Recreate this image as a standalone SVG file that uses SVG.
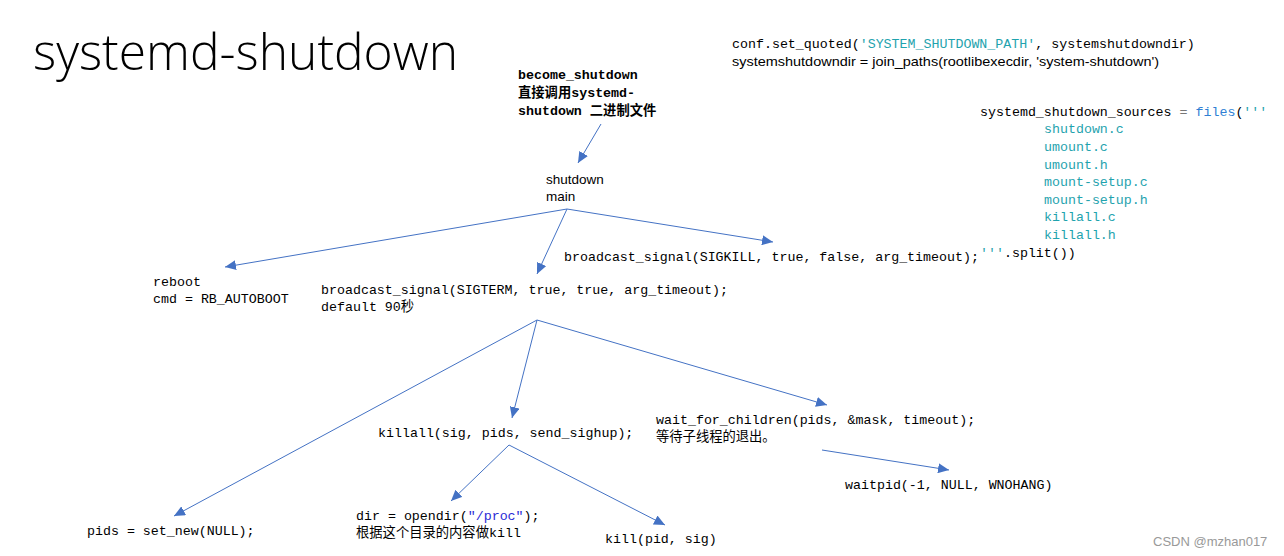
<svg xmlns="http://www.w3.org/2000/svg" width="1284" height="556" viewBox="0 0 1284 556">
<defs>
<style>
.m{font-family:"Liberation Mono","DejaVu Sans Mono","Noto Sans CJK SC",monospace;font-size:13.3px;fill:#000}
.b{font-weight:bold}
.s{font-family:"Liberation Sans","Noto Sans CJK SC",sans-serif;font-size:13.5px;fill:#000}
.t{fill:#1fa3ae}
.k{fill:#2f7fd4}
.q{fill:#2b2bd6}
.c{stroke:#4472c4;stroke-width:1;fill:none;marker-end:url(#ah)}
</style>
<marker id="ah" markerUnits="userSpaceOnUse" markerWidth="12" markerHeight="10" refX="11" refY="5" orient="auto"><path d="M0,0 L11,5 L0,10 Z" fill="#4472c4"/></marker>
</defs>
<rect width="1284" height="556" fill="#fff"/>
<text x="33" y="70" font-family="Open Sans, Lato, Noto Sans, sans-serif" font-weight="300" font-size="50" textLength="425" lengthAdjust="spacingAndGlyphs" fill="#000">systemd-shutdown</text>
<g id="conf">
<text class="m" x="732" y="48">conf.set_quoted(<tspan class="t">'SYSTEM_SHUTDOWN_PATH'</tspan>, systemshutdowndir)</text>
<text class="s" x="732" y="66" textLength="427" lengthAdjust="spacingAndGlyphs">systemshutdowndir = join_paths(rootlibexecdir, 'system-shutdown')</text>
</g>
<g id="sources">
<text class="m" x="980" y="116">systemd_shutdown_sources <tspan fill="#777">=</tspan> <tspan class="k">files</tspan>(<tspan class="t">'''</tspan></text>
<text class="m t" x="1044" y="133">shutdown.c</text>
<text class="m t" x="1044" y="151">umount.c</text>
<text class="m t" x="1044" y="169">umount.h</text>
<text class="m t" x="1044" y="186">mount-setup.c</text>
<text class="m t" x="1044" y="204">mount-setup.h</text>
<text class="m t" x="1044" y="221">killall.c</text>
<text class="m t" x="1044" y="239">killall.h</text>
<text class="m" x="980" y="257"><tspan class="t">'''</tspan>.split())</text>
</g>
<g id="become">
<text class="m b" x="518" y="79">become_shutdown</text>
<text class="m b" x="518" y="97">直接调用systemd-</text>
<text class="m b" x="518" y="115">shutdown 二进制文件</text>
</g>
<g id="main">
<text class="s" x="546" y="184">shutdown</text>
<text class="s" x="546" y="201">main</text>
</g>
<g id="reboot">
<text class="m" x="153" y="286">reboot</text>
<text class="m" x="153" y="303">cmd = RB_AUTOBOOT</text>
</g>
<g id="sigterm">
<text class="m" x="321" y="294">broadcast_signal(SIGTERM, true, true, arg_timeout);</text>
<text class="m" x="321" y="311">default 90秒</text>
</g>
<g id="sigkill">
<text class="m" x="564" y="261">broadcast_signal(SIGKILL, true, false, arg_timeout);</text>
</g>
<g id="killall">
<text class="m" x="378" y="437">killall(sig, pids, send_sighup);</text>
</g>
<g id="wait">
<text class="m" x="656" y="424">wait_for_children(pids, &amp;mask, timeout);</text>
<text class="m" x="656" y="441">等待子线程的退出。</text>
</g>
<g id="waitpid">
<text class="m" x="845" y="489">waitpid(-1, NULL, WNOHANG)</text>
</g>
<g id="pids">
<text class="m" x="87" y="535">pids = set_new(NULL);</text>
</g>
<g id="opendir">
<text class="m" x="356" y="520">dir = opendir(<tspan class="q">"/proc"</tspan>);</text>
<text class="m" x="356" y="537">根据这个目录的内容做kill</text>
</g>
<g id="kill">
<text class="m" x="605" y="543">kill(pid, sig)</text>
</g>
<g id="connectors">
<line class="c" x1="601" y1="124" x2="578" y2="163"/>
<line class="c" x1="567" y1="209" x2="225" y2="267"/>
<line class="c" x1="567" y1="209" x2="537" y2="274"/>
<line class="c" x1="567" y1="209" x2="773" y2="242"/>
<line class="c" x1="537" y1="320" x2="174" y2="516"/>
<line class="c" x1="537" y1="320" x2="512" y2="418"/>
<line class="c" x1="537" y1="320" x2="827" y2="405"/>
<line class="c" x1="509" y1="445" x2="451" y2="501"/>
<line class="c" x1="509" y1="445" x2="665" y2="525"/>
<line class="c" x1="822" y1="450" x2="949" y2="470"/>
</g>
<text x="1153" y="546" font-family="Liberation Sans, sans-serif" font-size="13" fill="#999">CSDN @mzhan017</text>
</svg>
